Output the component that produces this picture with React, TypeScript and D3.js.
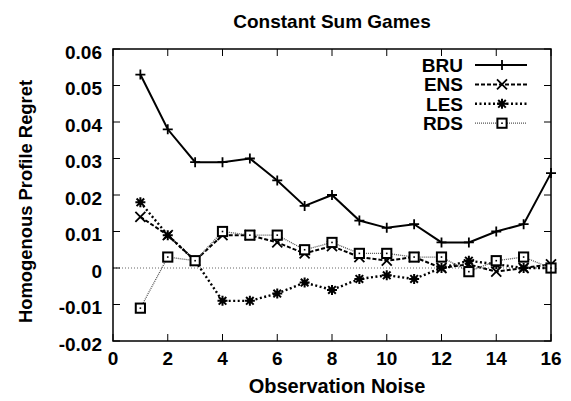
import React from "react";
import * as d3 from "d3";

const xs = [1, 2, 3, 4, 5, 6, 7, 8, 9, 10, 11, 12, 13, 14, 15, 16];
const BRU = [0.053, 0.038, 0.029, 0.029, 0.030, 0.024, 0.017, 0.020, 0.013, 0.011, 0.012, 0.007, 0.007, 0.010, 0.012, 0.026];
const ENS = [0.014, 0.009, 0.002, 0.009, 0.009, 0.007, 0.004, 0.006, 0.003, 0.002, 0.003, 0.000, 0.001, -0.001, 0.000, 0.001];
const LES = [0.018, 0.009, 0.002, -0.009, -0.009, -0.007, -0.004, -0.006, -0.003, -0.002, -0.003, 0.000, 0.002, 0.001, 0.000, 0.000];
const RDS = [-0.011, 0.003, 0.002, 0.010, 0.009, 0.009, 0.005, 0.007, 0.004, 0.004, 0.003, 0.003, -0.001, 0.002, 0.003, 0.000];
const xTicks = [0, 2, 4, 6, 8, 10, 12, 14, 16];
const yTicks = [-0.02, -0.01, 0, 0.01, 0.02, 0.03, 0.04, 0.05, 0.06];
const yTickLabels = ["-0.02", "-0.01", "0", "0.01", "0.02", "0.03", "0.04", "0.05", "0.06"];

const L = 113, R = 551, T = 49, B = 341;
const FONT = "'Liberation Sans', Arial, Helvetica, sans-serif";

type Kind = "plus" | "cross" | "star" | "square";
const series: { name: string; values: number[]; kind: Kind; dash: string; width: number; color: string }[] = [
  { name: "BRU", values: BRU, kind: "plus", dash: "none", width: 2, color: "#000" },
  { name: "ENS", values: ENS, kind: "cross", dash: "4,2", width: 2, color: "#000" },
  { name: "LES", values: LES, kind: "star", dash: "2,2.5", width: 2.4, color: "#000" },
  { name: "RDS", values: RDS, kind: "square", dash: "1,1", width: 1.3, color: "#555" },
];

function Marker({ x, y, kind }: { x: number; y: number; kind: Kind }) {
  const s = 5;
  const st = { stroke: "#000", strokeWidth: 1.8, fill: "none" };
  if (kind === "plus")
    return <path d={`M${x - s},${y}H${x + s}M${x},${y - s}V${y + s}`} {...st} />;
  if (kind === "cross")
    return <path d={`M${x - s},${y - s}L${x + s},${y + s}M${x - s},${y + s}L${x + s},${y - s}`} {...st} />;
  if (kind === "star") {
    const k = 3.8;
    return <path d={`M${x - s},${y}H${x + s}M${x},${y - s}V${y + s}M${x - k},${y - k}L${x + k},${y + k}M${x - k},${y + k}L${x + k},${y - k}`} {...st} strokeWidth={2} />;
  }
  return (
    <g>
      <rect x={x - 4.6} y={y - 4.6} width={9.2} height={9.2} fill="#fff" stroke="#000" strokeWidth={2} />
      <rect x={x - 0.8} y={y - 0.8} width={1.6} height={1.6} fill="#000" />
    </g>
  );
}

export default function App() {
  const x = d3.scaleLinear().domain([0, 16]).range([L, R]);
  const y = d3.scaleLinear().domain([-0.02, 0.06]).range([B, T]);
  const line = d3.line<number>().x((_, i) => x(xs[i])).y((d) => y(d));
  const tl = 7;
  return (
    <svg width={571} height={401} style={{ position: "absolute", left: 0, top: 0, background: "#fff" }}>
      <text x={332} y={28} textAnchor="middle" fontFamily={FONT} fontWeight="bold" fontSize={19}>Constant Sum Games</text>
      {/* zero line */}
      <line x1={L} x2={R} y1={y(0)} y2={y(0)} stroke="#666" strokeWidth={1} strokeDasharray="1,2" />
      {/* ticks */}
      {xTicks.map((t) => (
        <g key={"x" + t}>
          <line x1={x(t)} x2={x(t)} y1={B} y2={B - tl} stroke="#000" strokeWidth={1} />
          <line x1={x(t)} x2={x(t)} y1={T} y2={T + tl} stroke="#000" strokeWidth={1} />
          <text x={x(t)} y={B + 24} textAnchor="middle" fontFamily={FONT} fontWeight="bold" fontSize={19}>{t}</text>
        </g>
      ))}
      {yTicks.map((t, i) => (
        <g key={"y" + i}>
          <line x1={L} x2={L + tl} y1={y(t)} y2={y(t)} stroke="#000" strokeWidth={1} />
          <line x1={R} x2={R - tl} y1={y(t)} y2={y(t)} stroke="#000" strokeWidth={1} />
          <text x={L - 11} y={y(t) + 9.5} textAnchor="end" fontFamily={FONT} fontWeight="bold" fontSize={19}>{yTickLabels[i]}</text>
        </g>
      ))}
      <text x={337} y={393} textAnchor="middle" fontFamily={FONT} fontWeight="bold" fontSize={20}>Observation Noise</text>
      <text transform={`translate(31.5,201.5) rotate(-90)`} textAnchor="middle" fontFamily={FONT} fontWeight="bold" fontSize={18.4}>Homogenous Profile Regret</text>
      {/* series */}
      {series.map((s) => (
        <g key={s.name}>
          <path d={line(s.values) || ""} fill="none" stroke={s.color} strokeWidth={s.width} strokeDasharray={s.dash} />
          {s.values.map((v, i) => <Marker key={i} x={x(xs[i])} y={y(v)} kind={s.kind} />)}
        </g>
      ))}
      {/* legend */}
      {series.map((s, i) => {
        const ly = 65 + i * 19.4;
        return (
          <g key={"lg" + s.name}>
            <text x={463} y={ly + 7} textAnchor="end" fontFamily={FONT} fontWeight="bold" fontSize={19}>{s.name}</text>
            <line x1={475} x2={527} y1={ly} y2={ly} stroke={s.color} strokeWidth={s.width} strokeDasharray={s.dash} />
            <Marker x={502} y={ly} kind={s.kind} />
          </g>
        );
      })}
      <rect x={L} y={T} width={R - L} height={B - T} fill="none" stroke="#000" strokeWidth={1.5} />
    </svg>
  );
}
